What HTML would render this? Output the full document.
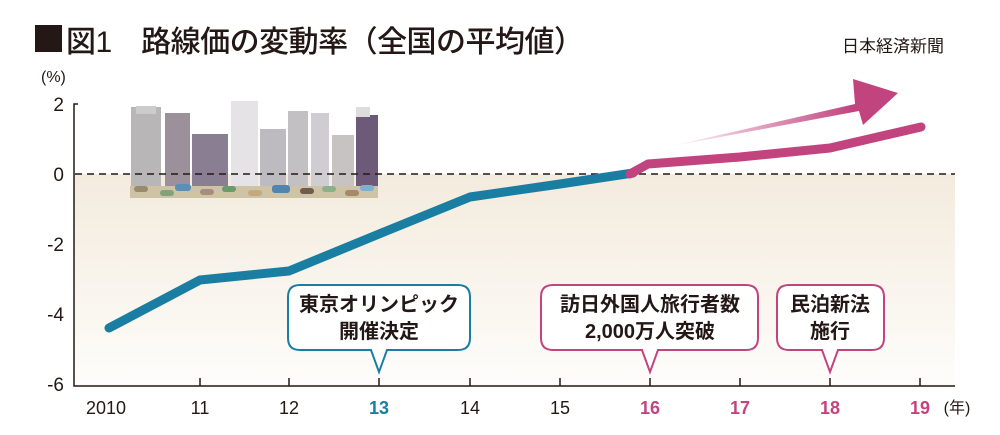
<!DOCTYPE html>
<html><head><meta charset="utf-8"><style>
body{margin:0;background:#fff;}
svg{display:block;font-family:"Liberation Sans","Noto Sans CJK JP",sans-serif;}
</style></head><body>
<svg width="1000" height="435" viewBox="0 0 1000 435" xmlns="http://www.w3.org/2000/svg">
<defs>
<linearGradient id="bg" x1="0" y1="0" x2="0" y2="1"><stop offset="0" stop-color="#f3ebdd"/><stop offset="1" stop-color="#fefdfb"/></linearGradient>
<linearGradient id="ar" x1="0" y1="0" x2="1" y2="0"><stop offset="0" stop-color="#c2447f" stop-opacity="0"/><stop offset="0.8" stop-color="#c2447f"/></linearGradient>
</defs>
<rect x="74" y="174" width="881" height="212" fill="url(#bg)"/>
<rect x="35" y="25" width="27" height="27" fill="#231815"/>
<text x="66" y="52" font-size="30" fill="#231815" font-weight="500" textLength="518" lengthAdjust="spacing">図1　路線価の変動率（全国の平均値）</text>
<text x="842" y="52" font-size="17" fill="#231815">日本経済新聞</text>
<text x="41" y="82" font-size="16" fill="#231815">(%)</text>
<g font-size="19" fill="#231815" text-anchor="end">
<text x="64" y="111">2</text><text x="64" y="181">0</text><text x="64" y="251">-2</text><text x="64" y="321">-4</text><text x="64" y="391">-6</text></g>
<path d="M78 104H74V386H955" stroke="#231815" stroke-width="1.5" fill="none"/>
<g stroke="#231815" stroke-width="1.5">
<path d="M200 378v8M289 378v8M379 378v8M470 378v8M560 378v8M650 378v8M740 378v8M830 378v8M920 378v8"/></g>
<g>
<rect x="131" y="107" width="30" height="81" fill="#b8b6b6"/><rect x="136" y="106" width="20" height="8" fill="#ccc"/>
<rect x="165" y="113" width="25" height="75" fill="#9c909b"/>
<rect x="192" y="134" width="36" height="54" fill="#8a7f92"/>
<rect x="231" y="101" width="27" height="87" fill="#e5e3e6"/>
<rect x="260" y="129" width="26" height="59" fill="#bdbbc0"/>
<rect x="288" y="111" width="20" height="77" fill="#c2c0c2"/>
<rect x="311" y="113" width="18" height="75" fill="#cfcdd1"/>
<rect x="332" y="135" width="22" height="53" fill="#c8c3c3"/>
<rect x="356" y="115" width="22" height="73" fill="#6d5a78"/><rect x="356" y="107" width="14" height="10" fill="#ddd"/>
<g>
<rect x="130" y="186" width="248" height="12" fill="#cfc3a5"/>
<rect x="134" y="186" width="14" height="6" rx="3" fill="#9a8a6a"/><rect x="160" y="190" width="14" height="6" rx="3" fill="#7fa37a"/>
<rect x="175" y="184" width="16" height="7" rx="3" fill="#5b8fb5"/><rect x="200" y="189" width="14" height="6" rx="3" fill="#a78e7b"/>
<rect x="222" y="186" width="14" height="6" rx="3" fill="#6a9b6a"/><rect x="248" y="190" width="14" height="6" rx="3" fill="#c4a97e"/>
<rect x="272" y="185" width="18" height="8" rx="3" fill="#4f86ad"/><rect x="300" y="188" width="14" height="6" rx="3" fill="#6f5c4a"/>
<rect x="322" y="186" width="14" height="6" rx="3" fill="#8db08a"/><rect x="345" y="190" width="14" height="6" rx="3" fill="#a5896b"/>
<rect x="360" y="185" width="14" height="6" rx="3" fill="#7db0d0"/>
</g>
</g>
<path d="M75 174H955" stroke="#231815" stroke-width="1.5" stroke-dasharray="7,5"/>
<path d="M667 147L855 104L853 79L898 93L863 125L859 111Z" fill="url(#ar)"/>
<polyline points="109,328 200,280 289,271 379,234 470,197 560,184 633,173" fill="none" stroke="#1a7ea3" stroke-width="9" stroke-linejoin="round" stroke-linecap="round"/>
<polyline points="630,174 648,164 740,157 830,148 921,127" fill="none" stroke="#c2447f" stroke-width="9" stroke-linejoin="round" stroke-linecap="round"/>
<path d="M300 285H458Q470 285 470 297V338Q470 350 458 350H387L379 372L371 350H300Q288 350 288 338V297Q288 285 300 285Z" fill="#fff" stroke="#1a7ea3" stroke-width="2"/>
<path d="M553 285H746Q758 285 758 297V338Q758 350 746 350H658L650 372L642 350H553Q541 350 541 338V297Q541 285 553 285Z" fill="#fff" stroke="#c2447f" stroke-width="2"/>
<path d="M789 285H872Q884 285 884 297V338Q884 350 872 350H838L830 372L822 350H789Q777 350 777 338V297Q777 285 789 285Z" fill="#fff" stroke="#c2447f" stroke-width="2"/>
<g font-size="20" font-weight="bold" fill="#231815" text-anchor="middle">
<text x="379" y="311">東京オリンピック</text><text x="379" y="338">開催決定</text>
<text x="650" y="311">訪日外国人旅行者数</text><text x="650" y="338">2,000万人突破</text>
<text x="830" y="311">民泊新法</text><text x="830" y="338">施行</text></g>
<g font-size="18" text-anchor="middle">
<text x="106" y="414" fill="#231815">2010</text><text x="200" y="414" fill="#231815">11</text><text x="289" y="414" fill="#231815">12</text>
<text x="379" y="414" fill="#1a7ea3" font-weight="bold">13</text><text x="470" y="414" fill="#231815">14</text><text x="560" y="414" fill="#231815">15</text>
<text x="650" y="414" fill="#c2447f" font-weight="bold">16</text><text x="740" y="414" fill="#c2447f" font-weight="bold">17</text>
<text x="830" y="414" fill="#c2447f" font-weight="bold">18</text><text x="920" y="414" fill="#c2447f" font-weight="bold">19</text>
<text x="957" y="413" fill="#231815" font-size="16">(年)</text></g>
</svg>
</body></html>
